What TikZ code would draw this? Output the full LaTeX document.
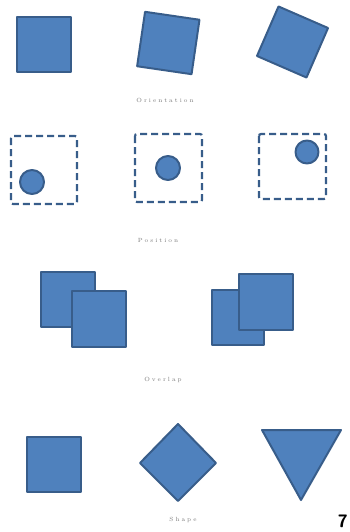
\documentclass[tikz,border=0pt]{standalone}
\usepackage{tikz}
\definecolor{formblau}{RGB}{79,129,189}
\definecolor{formrand}{RGB}{56,93,138}
\definecolor{textgrau}{RGB}{120,120,120}

\begin{document}
\begin{tikzpicture}[x=1pt, y=-1pt, font=\tiny,
    form/.style={fill=formblau, draw=formrand, line width=2pt, line join=round},
    rahmen/.style={draw=formrand, line width=2.2pt, dash pattern=on 7pt off 4pt, rounded corners=2pt},
    beschriftung/.style={text=textgrau, inner sep=0pt, font=\fontsize{6}{7}\selectfont}]
		%Bildbereich
		\useasboundingbox (0,0) rectangle (349,532);
		% Zeile 1: Drehung
		\draw[form] (17,17) rectangle (71,72);
		\draw[form, rotate around={-8.3:(168.3,43)}] (140.8,15.5) rectangle (195.8,70.5);
		\draw[form, rotate around={-23.5:(292.5,42)}] (265.5,15) rectangle (319.5,69);
		\node[beschriftung] (lblEins) at (165,100) {O\,\,r\,\,i\,\,e\,\,n\,\,t\,\,a\,\,t\,\,i\,\,o\,\,n};
		% Zeile 2: Lage
		\draw[rahmen] (11,136) rectangle (77,204);
		\draw[form] (32,182) circle (12);
		\draw[rahmen] (135,134) rectangle (202,202);
		\draw[form] (168,168) circle (12);
		\draw[rahmen] (259,134) rectangle (326,199);
		\draw[form] (307,152) circle (11.5);
		\node[beschriftung] (lblZwei) at (158,240) {P\,\,o\,\,s\,\,i\,\,t\,\,i\,\,o\,\,n};
		% Zeile 3: Ueberdeckung
		\draw[form] (41,272) rectangle (95,327);
		\draw[form] (72,291) rectangle (126,347);
		\draw[form] (212,290) rectangle (264,345);
		\draw[form] (239,274) rectangle (293,330);
		\node[beschriftung] (lblDrei) at (163,380) {O\,\,v\,\,e\,\,r\,\,l\,\,a\,\,p};
		% Zeile 4: Form
		\draw[form] (27,437) rectangle (81,492);
		\draw[form] (178,424) -- (216,463) -- (178,501) -- (140,463) -- cycle;
		\draw[form] (262,430) -- (341,430) -- (301,500) -- cycle;
		\node[beschriftung] (lblVier) at (183,520) {S\,\,h\,\,a\,\,p\,\,e};
		%Seitenzahl
		\node[anchor=east, inner sep=0pt, font=\fontsize{18}{18}\sffamily\bfseries] (seite) at (348,521) {7};
\end{tikzpicture}
\end{document}
